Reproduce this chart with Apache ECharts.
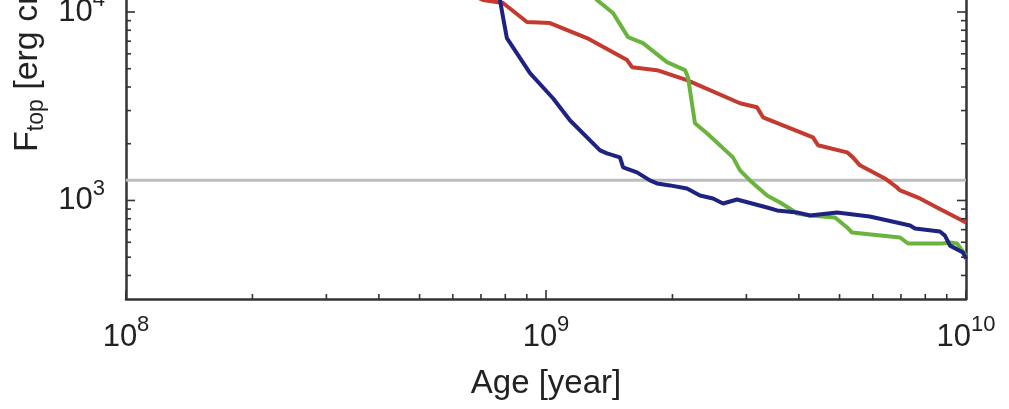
<!DOCTYPE html>
<html><head><meta charset="utf-8">
<script src="https://cdn.jsdelivr.net/npm/echarts@6/dist/echarts.min.js"></script>
<style>html,body{margin:0;padding:0;background:#fff}#c{width:1009px;height:409px}</style>
</head><body><div id="c"></div>
<script>
// ---- data (age in years, F_top in erg cm^-2 s^-1) ----
const redAge = [6.59e8, 7.08e8, 7.9e8, 9.01e8, 1.022e9, 1.252e9, 1.56e9, 1.603e9, 1.838e9, 2.166e9, 2.897e9, 3.18e9, 3.286e9, 3.667e9, 4.322e9, 4.442e9, 5.21e9, 5.38e9, 5.59e9, 6.41e9, 6.85e9, 6.97e9, 7.77e9, 8.53e9, 1.0e10];
const redF   = [12460, 11580, 11166, 8847, 8740, 7273, 5556, 5097, 4915, 4347, 3281, 3124, 2763, 2506, 2163, 1962, 1800, 1693, 1536, 1309, 1172, 1130, 1025, 918, 764];

const greenAge = [1.273e9, 1.322e9, 1.444e9, 1.568e9, 1.702e9, 1.941e9, 2.143e9, 2.178e9, 2.263e9, 2.417e9, 2.787e9, 2.897e9, 3.06e9, 3.36e9, 3.607e9, 3.77e9, 3.96e9, 4.253e9, 4.876e9, 5.21e9, 5.354e9, 6.966e9, 7.278e9, 8.77e9, 9.16e9, 9.52e9, 1.0e10];
const greenF   = [13090, 11580, 9878, 7362, 6840, 5420, 4915, 4510, 2568, 2272, 1693, 1444, 1278, 1063, 976, 918, 853, 832, 812, 719, 676, 636, 591, 591, 598, 591, 510];

const blueAge = [7.6e8, 7.77e8, 7.9e8, 8.07e8, 9.16e8, 1.039e9, 1.14e9, 1.345e9, 1.397e9, 1.5e9, 1.526e9, 1.647e9, 1.768e9, 1.837e9, 1.973e9, 2.166e9, 2.326e9, 2.498e9, 2.64e9, 2.85e9, 3.36e9, 3.548e9, 3.96e9, 4.253e9, 4.93e9, 5.9e9, 7.36e9, 7.56e9, 8.67e9, 8.91e9, 9.16e9, 9.84e9, 1.0e10];
const blueF   = [13090, 11580, 9406, 7273, 4737, 3487, 2665, 1845, 1778, 1693, 1498, 1409, 1278, 1231, 1202, 1158, 1063, 1025, 964, 1012, 918, 885, 864, 832, 864, 822, 736, 710, 684, 651, 576, 529, 491];

const refAge = [1e8, 1e10];
const refF = [1280, 1280];

const xMin = 1e8, xMax = 1e10;
const yMin = 300, yMax = 11580;   // visible part of the (cropped) log axis
const xLabelTicks = [1e8, 1e9, 1e10];
const yLabelTicks = [1e3, 1e4];
const xMinorTicks = [2e8,3e8,4e8,5e8,6e8,7e8,8e8,9e8,2e9,3e9,4e9,5e9,6e9,7e9,8e9,9e9];
const yMinorTicks = [400,500,600,700,800,900,2000,3000,4000,5000,6000,7000,8000,9000];

const xAxisTitle = 'Age [year]';

// ---- chart ----
const FONT = '"Liberation Sans", Arial, Helvetica, sans-serif';
const TXT = '#222';
const zip = (a, b) => a.map((v, i) => [v, b[i]]);
const isLabelTick = (v, list) => list.some(t => Math.abs(Math.log10(v) - Math.log10(t)) < 1e-6);
const expOf = v => Math.round(Math.log10(v));
const labelRich = {
  b: {fontSize: 31, lineHeight: 46, fontFamily: FONT, color: TXT},
  s: {fontSize: 22, lineHeight: 22, verticalAlign: 'top', fontFamily: FONT, color: TXT}
};

function tickSeries(values, side) {
  const data = values.map(v => side === 'bottom' ? [v, yMin] : [side === 'left' ? xMin : xMax, v]);
  return {
    type: 'custom', silent: true, clip: false, z: 5,
    data: data,
    renderItem: function (params, api) {
      const xv = api.value(0), yv = api.value(1);
      const p = api.coord([xv, yv]);
      const major = side === 'bottom' ? isLabelTick(xv, xLabelTicks) : isLabelTick(yv, yLabelTicks);
      const len = major ? 9 : 5;
      let x2 = p[0], y2 = p[1];
      if (side === 'bottom') y2 -= len; else if (side === 'left') x2 += len; else x2 -= len;
      return {type: 'line', shape: {x1: p[0], y1: p[1], x2: x2, y2: y2},
              style: {stroke: '#333', lineWidth: 1.6}};
    }
  };
}

const chart = echarts.init(document.getElementById('c'), null, {renderer: 'canvas'});
chart.setOption({
  animation: false,
  backgroundColor: '#fff',
  grid: {left: 126, right: 43, top: 0, bottom: 110, containLabel: false, outerBoundsMode: 'none'},
  xAxis: {
    type: 'log', logBase: 10, min: xMin, max: xMax,
    name: xAxisTitle, nameLocation: 'middle', nameGap: 68,
    nameTextStyle: {fontSize: 33, fontFamily: FONT, color: TXT},
    axisLine: {show: true, lineStyle: {color: '#333', width: 2.5}},
    axisTick: {show: false},
    splitLine: {show: false},
    minorTick: {show: false}, minorSplitLine: {show: false},
    axisLabel: {
      margin: 15,
      formatter: v => isLabelTick(v, xLabelTicks) ? '{b|10}{s|' + expOf(v) + '}' : '',
      rich: labelRich
    }
  },
  yAxis: [{
    type: 'log', logBase: 10, min: yMin, max: yMax, position: 'left',
    axisLine: {show: true, lineStyle: {color: '#333', width: 2.5}},
    axisTick: {show: false},
    splitLine: {show: false},
    axisLabel: {
      margin: 21,
      formatter: v => isLabelTick(v, yLabelTicks) ? '{b|10}{s|' + expOf(v) + '}' : '',
      rich: labelRich
    }
  }, {
    type: 'log', logBase: 10, min: yMin, max: yMax, position: 'right',
    axisLine: {show: true, lineStyle: {color: '#333', width: 2.5}},
    axisTick: {show: false}, axisLabel: {show: false}, splitLine: {show: false}
  }],
  graphic: [{
    type: 'text', x: 28, y: 152, rotation: Math.PI / 2, z: 10,
    style: {
      text: '{m|F}{sub|top}{m| [erg cm}{sup|−2}{m| s}{sup|−1}{m|]}',
      align: 'left', verticalAlign: 'middle',
      rich: {
        m: {fontSize: 34, lineHeight: 40, fontFamily: FONT, fill: TXT, color: TXT},
        sub: {fontSize: 23, lineHeight: 20, verticalAlign: 'bottom', fontFamily: FONT, fill: TXT, color: TXT},
        sup: {fontSize: 23, lineHeight: 20, verticalAlign: 'top', fontFamily: FONT, fill: TXT, color: TXT}
      }
    }
  }],
  series: [
    {name: 'ref', type: 'line', data: zip(refAge, refF), symbol: 'none', silent: true,
     lineStyle: {color: '#bdbdbd', width: 3}, z: 1},
    {name: 'red', type: 'line', data: zip(redAge, redF), symbol: 'none',
     lineStyle: {color: '#c43a2f', width: 4}, z: 2},
    {name: 'green', type: 'line', data: zip(greenAge, greenF), symbol: 'none',
     lineStyle: {color: '#6ab43e', width: 4}, z: 3},
    {name: 'blue', type: 'line', data: zip(blueAge, blueF), symbol: 'none',
     lineStyle: {color: '#1e2382', width: 4}, z: 4},
    tickSeries(xLabelTicks.concat(xMinorTicks), 'bottom'),
    tickSeries(yLabelTicks.concat(yMinorTicks), 'left'),
    tickSeries(yLabelTicks.concat(yMinorTicks), 'right')
  ]
});
</script>
</body></html>
